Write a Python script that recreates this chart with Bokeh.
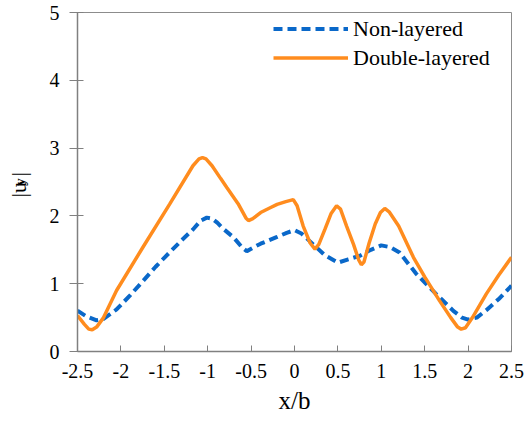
from bokeh.plotting import figure
from bokeh.models import Range1d, FixedTicker, Title
from bokeh.embed import file_html
from bokeh.resources import INLINE

# |u_y| along x/b, non-layered case
x_non = [-2.5, -2.4, -2.28, -2.2, -2.05, -1.9, -1.745, -1.6, -1.44, -1.3, -1.17, -1.08,
         -1.01, -0.95, -0.89, -0.83, -0.70, -0.60, -0.55, -0.48, -0.39, -0.2, -0.09, 0.0,
         0.08, 0.216, 0.35, 0.50, 0.62, 0.75, 0.88, 1.0, 1.1, 1.21, 1.40, 1.63, 1.83,
         1.93, 2.0, 2.1, 2.21, 2.35, 2.5]
y_non = [0.60, 0.52, 0.46, 0.48, 0.62, 0.82, 1.04, 1.25, 1.46, 1.64, 1.80, 1.93,
         1.975, 1.96, 1.90, 1.82, 1.68, 1.53, 1.48, 1.53, 1.59, 1.69, 1.75, 1.79,
         1.74, 1.58, 1.42, 1.31, 1.36, 1.41, 1.50, 1.565, 1.54, 1.46, 1.15, 0.85, 0.60,
         0.50, 0.47, 0.50, 0.61, 0.77, 0.97]

# |u_y| along x/b, double-layered case
x_dbl = [-2.5, -2.42, -2.37, -2.33, -2.28, -2.2, -2.05, -1.75, -1.44, -1.17, -1.10, -1.06,
         -1.02, -0.95, -0.85, -0.78, -0.65, -0.56, -0.53, -0.48, -0.39, -0.28, -0.2, -0.1,
         -0.014, 0.03, 0.1, 0.18, 0.236, 0.28, 0.35, 0.42, 0.485, 0.53, 0.6, 0.68, 0.74,
         0.77, 0.8, 0.86, 0.93, 0.99, 1.04, 1.09, 1.2, 1.37, 1.5, 1.67, 1.8, 1.88, 1.92,
         1.97, 2.05, 2.21, 2.35, 2.5]
y_dbl = [0.53, 0.40, 0.33, 0.32, 0.36, 0.50, 0.90, 1.53, 2.17, 2.74, 2.84, 2.86,
         2.84, 2.74, 2.55, 2.42, 2.18, 1.97, 1.93, 1.96, 2.05, 2.12, 2.17, 2.21,
         2.24, 2.15, 1.85, 1.60, 1.51, 1.58, 1.80, 2.03, 2.15, 2.10, 1.85, 1.58, 1.35,
         1.28, 1.32, 1.60, 1.88, 2.05, 2.11, 2.06, 1.85, 1.39, 1.10, 0.75, 0.50, 0.36, 0.33,
         0.35, 0.50, 0.85, 1.12, 1.39]

x_ticks = [-2.5, -2, -1.5, -1, -0.5, 0, 0.5, 1, 1.5, 2, 2.5]
x_tick_labels = ["-2.5", "-2", "-1.5", "-1", "-0.5", "0", "0.5", "1", "1.5", "2", "2.5"]
y_ticks = [0, 1, 2, 3, 4, 5]

FONT = "Liberation Serif"
AXIS_GRAY = "#808080"
BLUE = "#0a68c9"
ORANGE = "#ff8c1e"

p = figure(width=532, height=429,
           x_range=Range1d(-2.5, 2.5), y_range=Range1d(0, 5),
           output_backend="svg", toolbar_location=None,
           min_border_left=77, min_border_right=21,
           min_border_top=12, min_border_bottom=78)

p.line(x_non, y_non, line_color=BLUE, line_width=4, line_dash="9 5",
       legend_label="Non-layered")
p.line(x_dbl, y_dbl, line_color=ORANGE, line_width=3.5,
       legend_label="Double-layered")

p.xgrid.visible = False
p.ygrid.visible = False
p.outline_line_color = "#8c8c8c"
p.outline_line_width = 1
p.background_fill_color = "white"
p.border_fill_color = "white"

# x axis
p.xaxis.ticker = FixedTicker(ticks=x_ticks)
p.xaxis.major_label_overrides = {t: s for t, s in zip(x_ticks, x_tick_labels)}
p.xaxis.major_tick_in = 6
p.xaxis.major_tick_out = 0
p.xaxis.major_label_standoff = 12
p.xaxis.axis_label = "x/b"
p.xaxis.axis_label_standoff = 6
p.xaxis.axis_label_text_font_size = "25px"

# y axis; its title |u_y| is the axis label with room left for the subscript
p.yaxis.ticker = FixedTicker(ticks=y_ticks)
p.yaxis.major_tick_in = 6
p.yaxis.major_tick_out = 8
p.yaxis.major_label_standoff = 10
p.yaxis.axis_label = "|u  |"
p.yaxis.axis_label_standoff = 16
p.yaxis.axis_label_text_font_size = "22px"

p.axis.minor_tick_line_color = None
p.axis.axis_line_color = AXIS_GRAY
p.axis.axis_line_width = 1.5
p.axis.major_tick_line_color = AXIS_GRAY
p.axis.major_tick_line_width = 1
p.axis.major_label_text_font = FONT
p.axis.major_label_text_font_size = "20px"
p.axis.major_label_text_color = "black"
p.axis.axis_label_text_font = FONT
p.axis.axis_label_text_font_style = "normal"
p.axis.axis_label_text_color = "black"

# subscript "y" of the y-axis title
p.add_layout(Title(text="y", text_font=FONT, text_font_size="15px",
                   text_color="black", align="center", offset=7,
                   standoff=-50), "left")

leg = p.legend[0]
leg.location = "top_right"
leg.margin = 0
leg.padding = 2
leg.spacing = 0
leg.glyph_width = 75
leg.glyph_height = 29
leg.label_height = 29
leg.label_width = 156
leg.label_standoff = 5
leg.border_line_alpha = 0
leg.background_fill_alpha = 0
leg.label_text_font = FONT
leg.label_text_font_size = "22px"
leg.label_text_color = "black"

open("out.html", "w").write(file_html(p, INLINE))
